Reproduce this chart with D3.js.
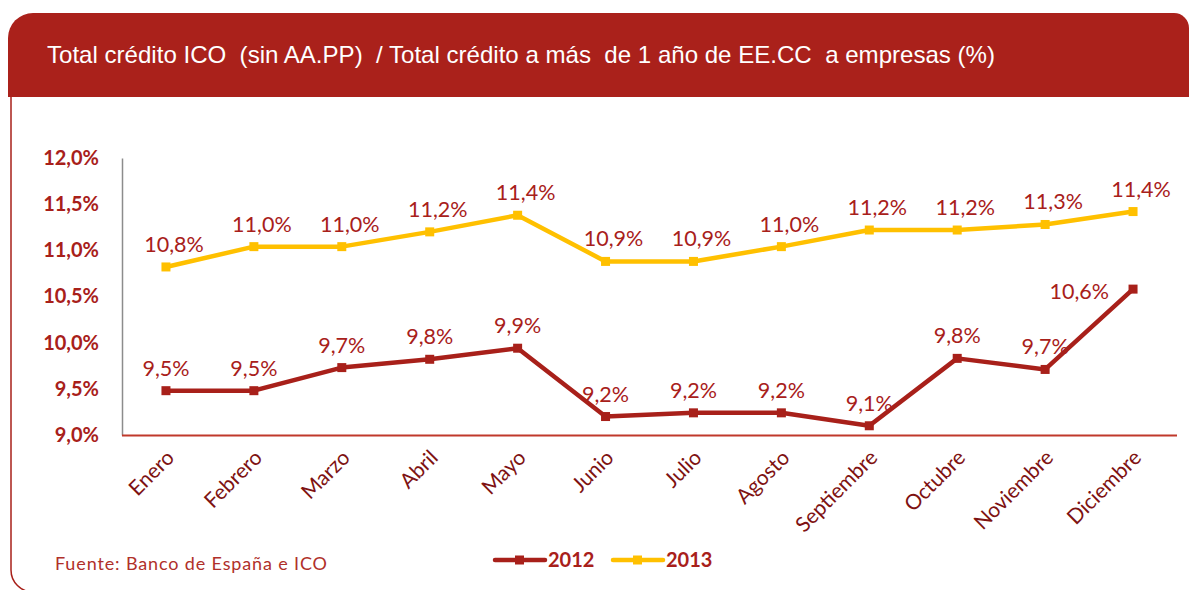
<!DOCTYPE html>
<html>
<head>
    <meta charset="utf-8">
    <title>Crédito ICO</title>
    <script src="https://d3js.org/d3.v7.min.js"></script>
    <style>
        body { margin: 0; background: #ffffff; }
        svg { display: block; }
        .ylab .tick text { font-family: Lato, sans-serif; font-weight: bold; font-size: 20px; fill: #a8201a; }
        .xlab .tick text { font-family: Lato, sans-serif; font-size: 21px; fill: #7e1212; }
        .ylab .domain { stroke: #8c8c8c; stroke-width: 1.5; }
        .xlab .domain { stroke: #c0392b; stroke-width: 2; }
    </style>
</head>
<body>
<script>
// datos
const months = ["Enero", "Febrero", "Marzo", "Abril", "Mayo", "Junio", "Julio",
                "Agosto", "Septiembre", "Octubre", "Noviembre", "Diciembre"];
const yTicks = [9.0, 9.5, 10.0, 10.5, 11.0, 11.5, 12.0];
const seriesNames = ["2012", "2013"];
const values2012 = [9.48, 9.48, 9.73, 9.82, 9.94, 9.20, 9.24, 9.24, 9.10, 9.83, 9.71, 10.58];
const values2013 = [10.82, 11.04, 11.04, 11.20, 11.38, 10.88, 10.88, 11.04, 11.22, 11.22, 11.28, 11.42];
const titleText = "Total crédito ICO  (sin AA.PP)  / Total crédito a más  de 1 año de EE.CC  a empresas (%)";
const sourceText = "Fuente: Banco de España e ICO";

const colors = {"2012": "#a8201a", "2013": "#ffc000"};

const width = 1189, height = 590;
const svg = d3.select("body").append("svg")
    .attr("width", width)
    .attr("height", height);

// marco y barra de titulo
svg.append("path")
    .attr("d", "M11,97 V570 A22,22 0 0 0 33,592 H1189")
    .attr("fill", "none")
    .attr("stroke", "#a8201a")
    .attr("stroke-width", 1.5);

svg.append("path")
    .attr("d", "M8,97 V38 A25,25 0 0 1 33,13 H1174 A15,15 0 0 1 1189,28 V97 Z")
    .attr("fill", "#aa211b");

svg.append("text")
    .attr("x", 47)
    .attr("y", 63)
    .attr("fill", "#ffffff")
    .style("font-family", "'Liberation Sans', Arial, sans-serif")
    .style("font-size", "24px")
    .style("white-space", "pre")
    .attr("textLength", 948)
    .attr("lengthAdjust", "spacingAndGlyphs")
    .text(titleText);

// escalas
const plotLeft = 122, plotRight = 1177, plotTop = 158, plotBottom = 435;
const xScale = d3.scalePoint().domain(months).range([plotLeft, plotRight]).padding(0.5);
const yScale = d3.scaleLinear().domain([9, 12]).range([plotBottom, plotTop]);

const esLocale = d3.formatLocale({decimal: ",", thousands: ".", grouping: [3], currency: ["", "€"]});
const fmt = v => esLocale.format(".1f")(v) + "%";

// eje Y
const yAxis = d3.axisLeft(yScale)
    .tickValues(yTicks)
    .tickSize(0)
    .tickSizeOuter(0)
    .tickPadding(23)
    .tickFormat(fmt);
svg.append("g")
    .attr("class", "ylab")
    .attr("transform", `translate(${plotLeft},0)`)
    .call(yAxis);

// eje X
const xAxis = d3.axisBottom(xScale).tickSize(0).tickSizeOuter(0);
const gx = svg.append("g")
    .attr("class", "xlab")
    .attr("transform", `translate(0,${plotBottom})`)
    .call(xAxis);
gx.select(".domain").attr("d", `M${plotLeft},0.5H${plotRight}`);
gx.selectAll(".tick text")
    .attr("text-anchor", "end")
    .attr("dy", 0)
    .attr("y", 0)
    .attr("transform", "translate(9,24) rotate(-45)");

// lineas
const allSeries = [
    {name: "2012", values: values2012},
    {name: "2013", values: values2013}
];

const line = d3.line()
    .x((d, i) => xScale(months[i]))
    .y(d => yScale(d));

allSeries.forEach(function(s) {
    const g = svg.append("g");
    g.append("path")
        .attr("d", line(s.values))
        .attr("fill", "none")
        .attr("stroke", colors[s.name])
        .attr("stroke-width", 4.5)
        .attr("stroke-linejoin", "round");
    g.selectAll("rect")
        .data(s.values)
        .enter().append("rect")
        .attr("x", (d, i) => xScale(months[i]) - 4.5)
        .attr("y", d => yScale(d) - 4.5)
        .attr("width", 9)
        .attr("height", 9)
        .attr("fill", colors[s.name]);
    const last = s.values.length - 1;
    g.selectAll("text")
        .data(s.values)
        .enter().append("text")
        .attr("x", (d, i) => {
            if (s.name === "2012" && i === last) return xScale(months[i]) - 24;
            return xScale(months[i]) + (s.name === "2013" ? 8 : 0);
        })
        .attr("y", (d, i) => {
            if (s.name === "2012" && i === last) return yScale(d) + 10;
            return yScale(d) - 15;
        })
        .attr("text-anchor", (d, i) => (s.name === "2012" && i === last) ? "end" : "middle")
        .attr("fill", "#a8201a")
        .style("font-family", "Lato, sans-serif")
        .style("font-size", "21.5px")
        .text(d => fmt(d));
});

// leyenda
const legend = svg.append("g").attr("transform", "translate(495,560)");
seriesNames.forEach(function(name, i) {
    const item = legend.append("g").attr("transform", `translate(${i * 118},0)`);
    item.append("line")
        .attr("x1", 0).attr("x2", 50)
        .attr("y1", 0).attr("y2", 0)
        .attr("stroke", colors[name])
        .attr("stroke-width", 4.5)
        .attr("stroke-linecap", "round");
    item.append("rect")
        .attr("x", 20).attr("y", -4.5)
        .attr("width", 9).attr("height", 9)
        .attr("fill", colors[name]);
    item.append("text")
        .attr("x", 53)
        .attr("y", 7)
        .attr("fill", "#a8201a")
        .style("font-family", "Lato, sans-serif")
        .style("font-weight", "bold")
        .style("font-size", "20px")
        .text(name);
});

// fuente
svg.append("text")
    .attr("x", 55)
    .attr("y", 570)
    .attr("fill", "#b0302a")
    .style("font-family", "Lato, sans-serif")
    .style("font-size", "18px")
    .attr("textLength", 272)
    .attr("lengthAdjust", "spacing")
    .text(sourceText);
</script>
</body>
</html>
